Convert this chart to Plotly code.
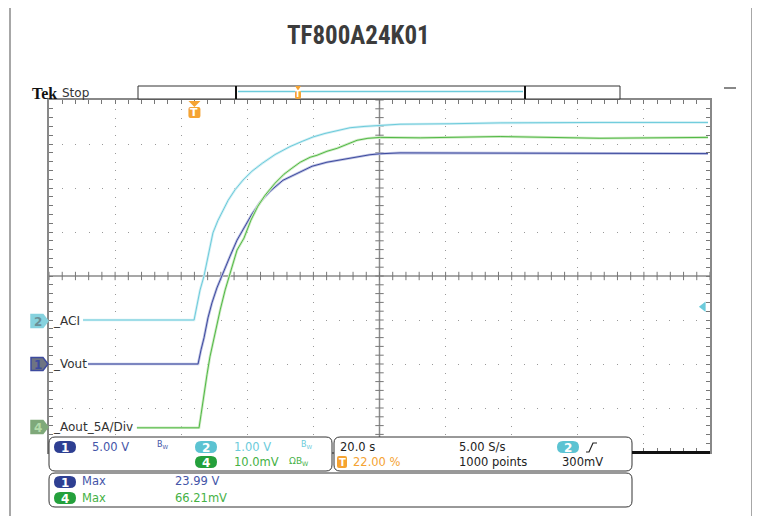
import numpy as np
import plotly.graph_objects as go

# scope capture: 20 s/div, trigger at 22 % of record, times relative to trigger (s)
t_aci = [-33.7, -0.1, 0.8, 1.7, 2.9, 4.1, 5.6, 7.1, 8.7, 10.2, 12.3, 14.7, 17.4, 20.5, 24.4,
         28.9, 32.6, 35.9, 39.5, 43.2, 47.1, 51.6, 56.2, 62.2, 77.3, 92.5, 122.7, 155.4]
v_aci = [0.0, 0.0, 0.34, 0.68, 1.00, 1.43, 1.98, 2.26, 2.51, 2.72, 2.96, 3.18, 3.38, 3.56, 3.76,
         3.94, 4.06, 4.16, 4.24, 4.31, 4.37, 4.40, 4.42, 4.45, 4.46, 4.48, 4.49, 4.49]

t_vout = [-32.2, 1.1, 2.0, 2.9, 4.1, 5.3, 6.8, 8.7, 10.8, 12.9, 15.0, 17.4, 19.9, 22.9,
          26.8, 31.0, 35.6, 40.1, 44.1, 49.2, 53.1, 56.2, 62.2, 155.4]
v_vout = [0.0, 0.0, 1.61, 2.97, 5.24, 6.94, 8.64, 10.45, 12.27, 14.08, 15.44, 17.03, 18.39, 19.64,
          20.88, 21.68, 22.47, 22.93, 23.21, 23.55, 23.78, 23.89, 23.99, 23.91]

t_aout = [-17.4, 1.4, 2.0, 2.6, 3.8, 4.7, 6.2, 7.8, 9.3, 10.8, 12.9, 15.0, 17.1, 19.2, 21.4,
          24.4, 27.1, 29.5, 32.0, 35.0, 37.1, 40.1, 43.2, 46.2, 49.2, 52.5, 56.2, 68.3, 92.5,
          122.7, 155.4]
v_aout = [0, 0, 2.98, 6.38, 12.05, 16.13, 21.57, 26.79, 31.33, 35.18, 40.40, 43.12, 47.20, 50.37,
          52.87, 55.59, 57.63, 58.99, 60.35, 61.48, 61.94, 62.84, 63.52, 64.43, 65.34, 65.79,
          66.0, 65.9, 66.2, 65.8, 66.0]

trig_level = 0.3   # V, ch2 rising

# channel scale (units/div) and ground offset (div)
ch_aci = dict(scale=1.0, offset=-1.0)
ch_vout = dict(scale=5.0, offset=-2.0)
ch_aout = dict(scale=10.0, offset=-3.45)

CYAN, BLUE, GREEN, ORANGE = '#6ccbdb', '#3d4a9e', '#52b946', '#f5a332'
FONT = 'DejaVu Sans'

# plot area in screen pixels (page body adds 8 px on the left/top)
OFF = 8
L, R, T, B = 49, 710, 100, 452
FW, FH = 760 - OFF, 516 - OFF


def px(x):
    return (x - L) / (R - L)


def py(y):
    return (B - y) / (B - T)


def xpix(t):
    return L + (t + 44) / 200 * (R - L)


shapes, ann = [], []


def box(x0, y0, x1, y1, r=0, fill='white', line='#333', lw=1, layer='above'):
    if r:
        p = (f"M{px(x0 + r)},{py(y0)} L{px(x1 - r)},{py(y0)} Q{px(x1)},{py(y0)} {px(x1)},{py(y0 + r)} "
             f"L{px(x1)},{py(y1 - r)} Q{px(x1)},{py(y1)} {px(x1 - r)},{py(y1)} "
             f"L{px(x0 + r)},{py(y1)} Q{px(x0)},{py(y1)} {px(x0)},{py(y1 - r)} "
             f"L{px(x0)},{py(y0 + r)} Q{px(x0)},{py(y0)} {px(x0 + r)},{py(y0)} Z")
        shapes.append(dict(type='path', path=p, xref='paper', yref='paper', fillcolor=fill,
                           line=dict(color=line, width=lw), layer=layer))
    else:
        shapes.append(dict(type='rect', xref='paper', yref='paper', x0=px(x0), x1=px(x1),
                           y0=py(y0), y1=py(y1), fillcolor=fill,
                           line=dict(color=line, width=lw), layer=layer))


def seg(x0, y0, x1, y1, color='#333', lw=1):
    shapes.append(dict(type='line', xref='paper', yref='paper', x0=px(x0), x1=px(x1),
                       y0=py(y0), y1=py(y1), line=dict(color=color, width=lw), layer='above'))


def poly(pts, fill, line=None, lw=0):
    p = 'M' + ' L'.join(f"{px(a)},{py(b)}" for a, b in pts) + ' Z'
    shapes.append(dict(type='path', path=p, xref='paper', yref='paper', fillcolor=fill,
                       line=dict(color=line or fill, width=lw), layer='above'))


def text(x, y, s, color='#222', size=11.5, anchor='left', family=FONT):
    ann.append(dict(x=px(x), y=py(y), xref='paper', yref='paper', text=s, showarrow=False,
                    xanchor=anchor, yanchor='middle', font=dict(color=color, size=size, family=family)))


def pill(x0, y0, label, color, w=22, h=12):
    box(x0, y0, x0 + w, y0 + h, r=h / 2, fill=color, lw=0)
    text(x0 + w / 2, y0 + h / 2 + 0.5, f'<b>{label}</b>', 'white', 12, 'center')


def tmark(xc, ytop, w, h, size):
    poly([(xc - w / 2, ytop), (xc + w / 2, ytop), (xc, ytop + h * 0.35)], ORANGE)
    box(xc - w / 2, ytop + h * 0.35, xc + w / 2, ytop + h, r=2, fill=ORANGE, lw=0)
    text(xc, ytop + h * 0.68, '<b>T</b>', 'white', size, 'center')


# outer frame and title
box(10, 7, 752, 540, fill='rgba(0,0,0,0)', line='#8a8a8a', lw=1.5, layer='below')
text(358, 36, '<b>TF800A24K01</b>', '#3c3c3c', 25, 'center',
     family='Roboto Condensed, DejaVu Sans Condensed, Liberation Sans Narrow, Roboto')
text(30, 93, '<b>Tek</b>', '#111', 16, family='Liberation Serif')
text(60, 93, 'Stop', '#333', 12)

# record bar
box(138, 86, 620, 99, line='#333', lw=1)
seg(236, 86, 236, 99, '#111', 2)
seg(525, 86, 525, 99, '#111', 2)
seg(238, 91.5, 523, 91.5, CYAN, 1.5)
tmark(298, 86, 6, 13, 8)
seg(724, 88, 736, 88, '#888', 2)

# trigger position marker
tmark(xpix(0), 101, 12, 17, 11)

# channel ground markers and labels
for yc, num, fill, edge, tc, label in [(321, '2', '#86d2de', '#86d2de', '#6a8f96', '_ACI'),
                                       (364, '1', '#6e7482', BLUE, BLUE, '_Vout'),
                                       (427, '4', '#7fa97a', '#7fa97a', '#b4dcaa', '_Aout_5A/Div')]:
    poly([(31, yc - 6.5), (43, yc - 6.5), (48, yc), (43, yc + 6.5), (31, yc + 6.5)], fill, edge, 1.5)
    text(38, yc + 0.5, f'<b>{num}</b>', tc, 12, 'center')
    text(51, yc, label, '#333', 12)

# info boxes
box(49, 437, 332, 471, r=6)
box(334, 437, 632, 471, r=6)
box(49, 473, 632, 507, r=6)
seg(632, 452.5, 710, 452.5, '#111', 3)

pill(54, 441, '1', '#2e3f92')
text(90, 447, '5.00 V', '#4455a8')
text(155, 445, 'B<sub>W</sub>', '#4455a8', 8)
pill(195, 441, '2', '#5cc3d2')
text(232, 447, '1.00 V', CYAN)
text(299, 445, 'B<sub>W</sub>', CYAN, 8)
pill(195, 456, '4', '#24a03c')
text(232, 462, '10.0mV', '#45b145')
text(287, 461, 'ΩB<sub>W</sub>', '#45b145', 9)

text(338, 447, '20.0 s', '#222')
box(337, 456, 347, 468, r=2, fill=ORANGE, lw=0)
text(342, 462.5, '<b>T</b>', 'white', 10, 'center')
text(351, 462, '22.00 %', ORANGE)
text(457, 447, '5.00 S/s', '#222')
text(457, 462, '1000 points', '#222')
pill(557, 441, '2', '#5cc3d2')
shapes.append(dict(type='path', xref='paper', yref='paper', layer='above',
                   path=f"M{px(586)},{py(452)} L{px(589)},{py(452)} L{px(593)},{py(443)} L{px(597)},{py(443)}",
                   line=dict(color='#222', width=1.2)))
text(560, 462, '300mV', '#222')

pill(54, 476, '1', '#2e3f92')
text(80, 481, 'Max', '#4455a8')
text(173, 481, '23.99 V', '#4455a8')
pill(54, 492, '4', '#24a03c')
text(80, 498, 'Max', '#45b145')
text(173, 498, '66.21mV', '#45b145')

# center cross
shapes.append(dict(type='line', xref='x', yref='y', x0=56, x1=56, y0=-4, y1=4,
                   line=dict(color='#8a8a8a', width=1.5), layer='below'))
shapes.append(dict(type='line', xref='x', yref='y', x0=-44, x1=156, y0=0, y1=0,
                   line=dict(color='#8a8a8a', width=1.5), layer='below'))

fig = go.Figure()
xt = np.arange(-44, 156.01, 4)
yt = np.arange(-4, 4.01, 0.2)
fig.add_trace(go.Scatter(x=xt, y=np.zeros_like(xt), mode='markers', hoverinfo='skip',
                         marker=dict(symbol='line-ns', size=6, line=dict(width=1, color='#777'))))
fig.add_trace(go.Scatter(x=np.full_like(yt, 56), y=yt, mode='markers', hoverinfo='skip',
                         marker=dict(symbol='line-ew', size=6, line=dict(width=1, color='#777'))))

for t, v, ax, c, halo in [(t_aci, v_aci, 'y2', CYAN, '#d2eff4'),
                          (t_aout, v_aout, 'y4', GREEN, '#cdeac4'),
                          (t_vout, v_vout, 'y3', BLUE, '#bcc1e2')]:
    fig.add_trace(go.Scatter(x=t, y=v, yaxis=ax, mode='lines', line=dict(color=halo, width=2.6)))
    fig.add_trace(go.Scatter(x=t, y=v, yaxis=ax, mode='lines', line=dict(color=c, width=1)))

# trigger level indicator on ch2
fig.add_trace(go.Scatter(x=[154], y=[trig_level], yaxis='y2', mode='markers', cliponaxis=False,
                         marker=dict(symbol='triangle-left', size=9, color=CYAN)))


def ch_range(ch):
    return [(-4 - ch['offset']) * ch['scale'], (4 - ch['offset']) * ch['scale']]


fig.update_layout(
    width=FW, height=FH,
    margin=dict(l=L - OFF, r=FW - (R - OFF), t=T - OFF, b=FH - (B - OFF)),
    paper_bgcolor='white', plot_bgcolor='white', showlegend=False, hovermode=False,
    shapes=shapes, annotations=ann,
    xaxis=dict(range=[-44, 156], tick0=-44, dtick=20, showticklabels=False, zeroline=False,
               showgrid=True, gridcolor='#999', griddash='1px,7.8px', gridwidth=1,
               ticks='inside', ticklen=4, tickcolor='#777', mirror='allticks',
               showline=True, linecolor='#888', linewidth=2,
               minor=dict(dtick=4, ticks='inside', ticklen=4, tickcolor='#777', showgrid=False)),
    yaxis=dict(range=[-4, 4], tick0=-4, dtick=1, showticklabels=False, zeroline=False,
               showgrid=True, gridcolor='#999', griddash='1px,12.2px', gridwidth=1,
               ticks='inside', ticklen=4, tickcolor='#777', mirror='allticks',
               showline=True, linecolor='#888', linewidth=2,
               minor=dict(dtick=0.2, ticks='inside', ticklen=4, tickcolor='#777', showgrid=False)),
    yaxis2=dict(range=ch_range(ch_aci), overlaying='y', visible=False),
    yaxis3=dict(range=ch_range(ch_vout), overlaying='y', visible=False),
    yaxis4=dict(range=ch_range(ch_aout), overlaying='y', visible=False),
)

fig.write_html("out.html")
